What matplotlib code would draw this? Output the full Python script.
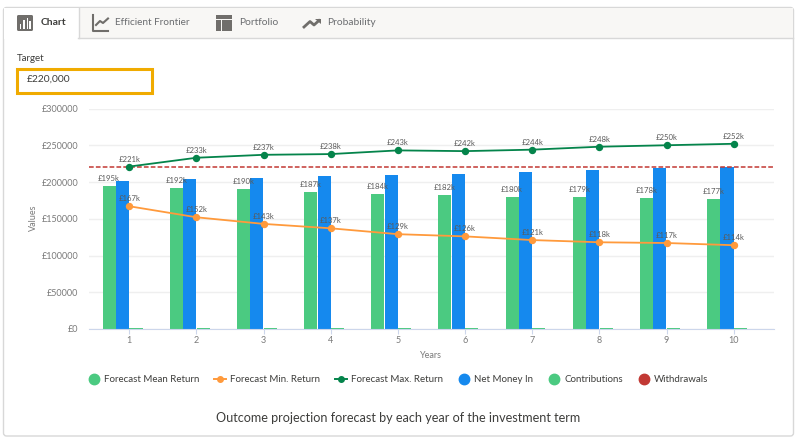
import numpy as np
import matplotlib
matplotlib.use("Agg")
import matplotlib.pyplot as plt
from matplotlib.lines import Line2D
from matplotlib.patches import Rectangle, FancyBboxPatch, Polygon

plt.rcParams['font.family'] = ['Lato', 'DejaVu Sans']

years = [1, 2, 3, 4, 5, 6, 7, 8, 9, 10]
mean_return = [195000, 192000, 190000, 187000, 184000, 182000, 180000, 179000, 178000, 177000]
min_return = [167000, 152000, 143000, 137000, 129000, 126000, 121000, 118000, 117000, 114000]
max_return = [221000, 233000, 237000, 238000, 243000, 242000, 244000, 248000, 250000, 252000]
net_money_in = [201500, 203500, 205500, 207500, 209500, 211500, 214000, 216500, 218500, 221000]
contributions = [1500, 1500, 2000, 2000, 2000, 2000, 2000, 2000, 2000, 2000]
withdrawals = [0, 500, 500, 500, 500, 500, 500, 500, 500, 500]
mean_labels = ['£195k', '£192k', '£190k', '£187k', '£184k', '£182k', '£180k', '£179k', '£178k', '£177k']
min_labels = ['£167k', '£152k', '£143k', '£137k', '£129k', '£126k', '£121k', '£118k', '£117k', '£114k']
max_labels = ['£221k', '£233k', '£237k', '£238k', '£243k', '£242k', '£244k', '£248k', '£250k', '£252k']
y_ticks = [0, 50000, 100000, 150000, 200000, 250000, 300000]
y_labels = ['£0', '£50000', '£100000', '£150000', '£200000', '£250000', '£300000']
target = 220000

GREEN = '#4bca81'
BLUE = '#1589ee'
ORANGE = '#ff9a3c'
DARK_GREEN = '#04844b'
RED = '#c23934'
GREY = '#6b6d70'
W, H = 800, 442

fig = plt.figure(figsize=(8, 4.42), dpi=100)

# page furniture, in pixel coordinates
bg = fig.add_axes([0, 0, 1, 1], zorder=0)
bg.set_xlim(0, W)
bg.set_ylim(H, 0)
bg.axis('off')
bg.add_patch(FancyBboxPatch((3.5, 7.5), 790, 428.5, boxstyle='round,pad=0,rounding_size=3',
                            fc='white', ec='#d8d8d8', lw=1))
bg.add_patch(Rectangle((4, 8), 789, 29.5, fc='#f8f7f5', ec='none'))
bg.plot([78, 793], [37.5, 37.5], color='#d8d8d8', lw=1)
bg.add_patch(Rectangle((4, 8), 74.5, 30.5, fc='white', ec='none'))
bg.plot([78.5, 78.5], [8, 37.5], color='#d8d8d8', lw=1)

# chart tab icon
bg.add_patch(FancyBboxPatch((17, 15), 16, 16, boxstyle='round,pad=0,rounding_size=1.5',
                            fc='#706e6b', ec='none'))
for bx, bt in zip([20.5, 24, 27.5, 30], [24, 20, 18, 21]):
    bg.add_patch(Rectangle((bx - 0.8, bt), 1.6, 28.5 - bt, fc='white', ec='none'))
# efficient frontier icon
bg.plot([92.5, 92.5, 108], [15, 30.5, 30.5], color='#706e6b', lw=1.5)
bg.plot([96, 100, 103, 108], [25, 21, 23, 18.5], color='#706e6b', lw=1.5)
# portfolio icon
bg.add_patch(Rectangle((216, 15), 16, 3.5, fc='#706e6b', ec='none'))
bg.add_patch(Rectangle((216, 20), 4.5, 11, fc='#706e6b', ec='none'))
bg.add_patch(Rectangle((222, 20), 10, 11, fc='#706e6b', ec='none'))
# probability icon
bg.plot([304, 310, 314, 319], [27, 21.5, 25, 20.5], color='#706e6b', lw=2)
bg.add_patch(Polygon([[315, 18.5], [320.5, 18.5], [320.5, 24]], fc='#706e6b', ec='none'))

bg.text(40.5, 22.5, 'Chart', fontsize=7.5, color='#3e3e3c', fontweight='bold', va='center')
bg.text(115, 22.5, 'Efficient Frontier', fontsize=7.2, color=GREY, va='center')
bg.text(239, 22.5, 'Portfolio', fontsize=7.4, color=GREY, va='center')
bg.text(327.5, 22.5, 'Probability', fontsize=7.4, color=GREY, va='center')
bg.text(16.5, 58.5, 'Target', fontsize=7, color='#3e3e3c', va='center')
bg.add_patch(Rectangle((16.5, 68.5), 135, 24, fc='white', ec='#f0ab00', lw=2.2))
bg.text(27, 79.5, '£220,000', fontsize=7.4, color='#3e3e3c', va='center')
bg.text(398.5, 417.5, 'Outcome projection forecast by each year of the investment term',
        fontsize=9.05, color='#3e3e3c', ha='center', va='center')

# the chart itself
ax = fig.add_axes([89 / W, 1 - 329 / H, 685 / W, 220.5 / H], zorder=1)
ax.patch.set_alpha(0)
x = np.array(years)
width = 0.2
ax.bar(x - 0.3, mean_return, width * 0.97, color=GREEN, zorder=2)
ax.bar(x - 0.1, net_money_in, width * 0.97, color=BLUE, zorder=2)
ax.bar(x + 0.1, contributions, width * 0.97, color=GREEN, zorder=2)
ax.bar(x + 0.3, withdrawals, width * 0.97, color=RED, alpha=0.4, zorder=2)
ax.axhline(target, color=RED, lw=1.3, ls=(0, (2.6, 1.2)), alpha=0.85, zorder=3)
ax.plot(x, min_return, color=ORANGE, lw=1.3, marker='o', ms=4.3, zorder=4)
ax.plot(x, max_return, color=DARK_GREEN, lw=1.3, marker='o', ms=4.3, zorder=4)

label_style = dict(textcoords='offset points', ha='center', va='center',
                   fontsize=5.6, color='#5a5a5a', zorder=5, annotation_clip=False)
for xi, v, s in zip(x - 0.3, mean_return, mean_labels):
    ax.annotate(s, (xi, v), xytext=(0, 5.4), **label_style)
for xi, v, s in zip(x, min_return, min_labels):
    ax.annotate(s, (xi, v), xytext=(0, 5.4), **label_style)
for xi, v, s in zip(x, max_return, max_labels):
    ax.annotate(s, (xi, v), xytext=(0, 5.4), **label_style)

ax.set_xlim(0.4, 10.6)
ax.set_ylim(0, 300000)
ax.set_xticks(years)
ax.set_yticks(y_ticks)
ax.set_yticklabels(y_labels)
ax.grid(axis='y', color='#efefef', lw=1, zorder=0)
ax.set_axisbelow(True)
for side in ['top', 'right', 'left']:
    ax.spines[side].set_visible(False)
ax.spines['bottom'].set_color('#ccd6eb')
ax.tick_params(axis='x', length=3.6, width=0.8, color='#ccd6eb', labelsize=6.5,
               labelcolor='#7a7a7a', pad=1.5)
ax.tick_params(axis='y', length=0, labelsize=6.5, labelcolor='#7a7a7a', pad=7.5)
fig.text(431 / W, 1 - 355 / H, 'Years', fontsize=6.5, color='#7a7a7a', ha='center', va='center')
fig.text(33 / W, 1 - 218 / H, 'Values', fontsize=6.5, color='#7a7a7a', rotation=90,
         ha='center', va='center')

handles = [
    Line2D([], [], ls='', marker='o', ms=7.5, color=GREEN),
    Line2D([], [], color=ORANGE, lw=1.4, marker='o', ms=4),
    Line2D([], [], color=DARK_GREEN, lw=1.4, marker='o', ms=4),
    Line2D([], [], ls='', marker='o', ms=7.5, color=BLUE),
    Line2D([], [], ls='', marker='o', ms=7.5, color=GREEN),
    Line2D([], [], ls='', marker='o', ms=7.5, color=RED),
]
names = ['Forecast Mean Return', 'Forecast Min. Return', 'Forecast Max. Return',
         'Net Money In', 'Contributions', 'Withdrawals']
leg = fig.legend(handles, names, ncol=6, loc='center', bbox_to_anchor=(398 / W, 1 - 379.5 / H),
                 frameon=False, fontsize=7, labelcolor='#3e3e3c', handlelength=1.24,
                 handletextpad=0.41, columnspacing=1.55, borderpad=0)

fig.savefig('out.png', dpi=100)
